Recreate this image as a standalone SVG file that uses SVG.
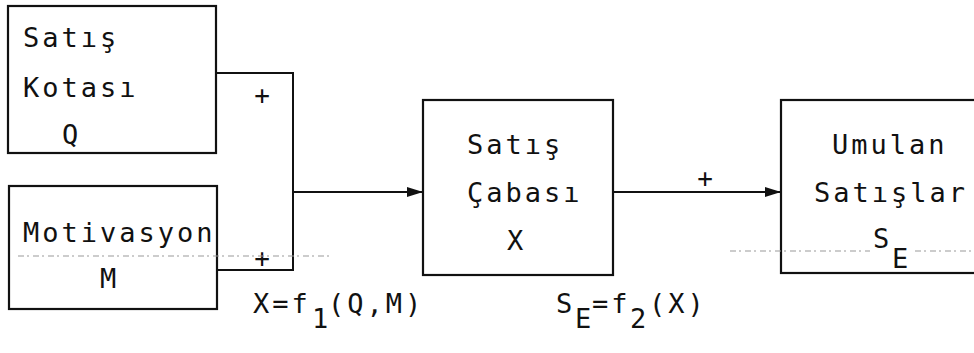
<svg xmlns="http://www.w3.org/2000/svg" width="974" height="353" viewBox="0 0 974 353">
<defs>
<style>
.box{fill:#fff;stroke:#111;stroke-width:2.2}
.ln{fill:none;stroke:#111;stroke-width:2}
.t{font-family:"DejaVu Sans Mono","Liberation Mono",monospace;font-size:27px;letter-spacing:3px;fill:#111}
.p{font-family:"DejaVu Sans Mono","Liberation Mono",monospace;font-size:26px;fill:#111;text-anchor:middle}
.dot{stroke:#999;stroke-width:1;stroke-dasharray:6 3 2 4;fill:none}
</style>
<marker id="ah" viewBox="0 0 16 10" refX="16" refY="5" markerWidth="16" markerHeight="10" markerUnits="userSpaceOnUse" orient="auto">
<path d="M0,0 L16,5 L0,10 z" fill="#111"/>
</marker>
</defs>
<rect width="974" height="353" fill="#fff"/>
<g id="connectors">
<polyline class="ln" points="216,73 293,73 293,270 217,270"/>
<line class="ln" x1="293" y1="192" x2="423" y2="192" marker-end="url(#ah)"/>
<line class="ln" x1="613" y1="192" x2="781" y2="192" marker-end="url(#ah)"/>
<text class="p" x="262" y="104">+</text>
<text class="p" x="262" y="267">+</text>
<text class="p" x="705" y="187">+</text>
</g>
<g id="satis-kotasi">
<rect class="box" x="8" y="6" width="208" height="147"/>
<text class="t" x="23" y="47">Satış</text>
<text class="t" x="23" y="97">Kotası</text>
<text class="t" x="62" y="144">Q</text>
</g>
<g id="motivasyon">
<rect class="box" x="9" y="186" width="208" height="123"/>
<text class="t" x="23" y="242">Motivasyon</text>
<text class="t" x="100" y="288">M</text>
</g>
<g id="satis-cabasi">
<rect class="box" x="423" y="100" width="190" height="175"/>
<text class="t" x="467" y="154">Satış</text>
<text class="t" x="467" y="202">Çabası</text>
<text class="t" x="507" y="250">X</text>
</g>
<g id="umulan-satislar">
<rect class="box" x="781" y="100" width="200" height="173"/>
<text class="t" x="832" y="154">Umulan</text>
<text class="t" x="814" y="202">Satışlar</text>
<text class="t" x="873" y="248">S</text>
<text class="t" x="892" y="268">E</text>
</g>
<g id="formulas">
<text class="t" x="253" y="313">X=f</text>
<text class="t" x="312" y="328">1</text>
<text class="t" x="328" y="313">(Q,M)</text>
<text class="t" x="556" y="313">S</text>
<text class="t" x="575" y="328">E</text>
<text class="t" x="592" y="313">=f</text>
<text class="t" x="630" y="328">2</text>
<text class="t" x="649" y="313">(X)</text>
</g>
<g id="artifacts">
<line class="dot" x1="18" y1="256" x2="330" y2="256"/>
<line class="dot" x1="730" y1="251" x2="870" y2="251"/>
<line class="dot" x1="915" y1="251" x2="974" y2="251"/>
</g>
</svg>
